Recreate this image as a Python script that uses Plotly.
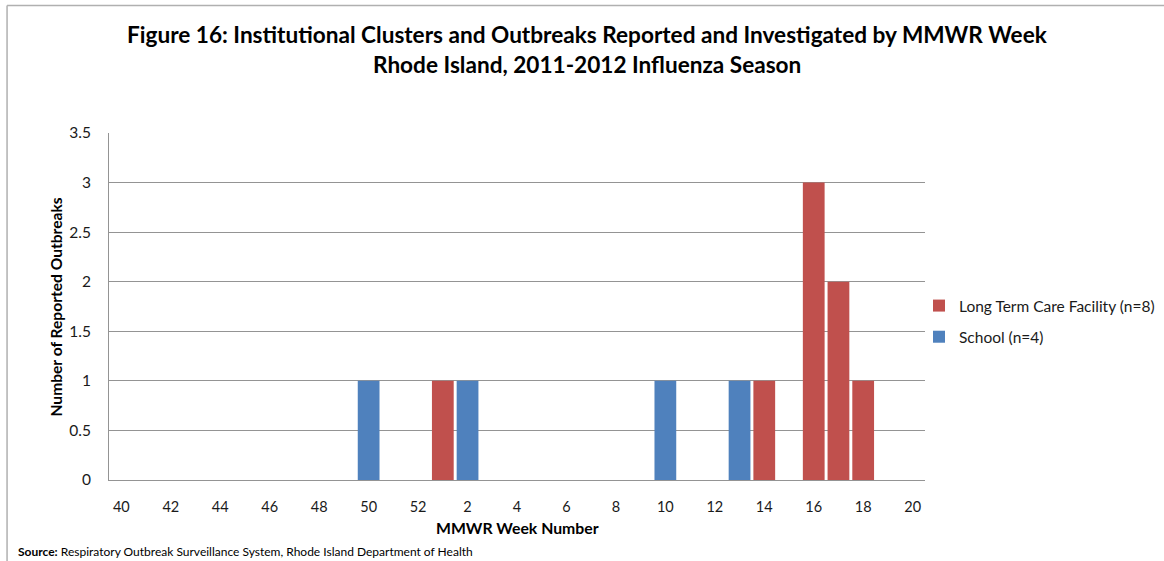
import plotly.graph_objects as go

# ---- data ----
weeks = [str(w) for w in list(range(40, 53)) + list(range(1, 21))]
ltc_values = [0]*13 + [1, 0, 0, 0, 0, 0, 0, 0, 0, 0, 0, 0, 0, 1, 0, 3, 2, 1, 0, 0]
school_values = [0]*10 + [1, 0, 0] + [0, 1, 0, 0, 0, 0, 0, 0, 0, 1, 0, 0, 1, 0, 0, 0, 0, 0, 0, 0]
tick_weeks = ["40", "42", "44", "46", "48", "50", "52", "2", "4", "6", "8", "10", "12", "14", "16", "18", "20"]
y_ticks = [0, 0.5, 1, 1.5, 2, 2.5, 3, 3.5]
y_tick_labels = ["0", "0.5", "1", "1.5", "2", "2.5", "3", "3.5"]

LTC_NAME = "Long Term Care Facility (n=8)"
SCHOOL_NAME = "School (n=4)"
RED = "#C0504D"
BLUE = "#4F81BD"
GRID = "#949494"
FONT = "Lato"

W, H = 1164, 561
PL, PR, PT, PB = 108.5, 925, 133, 480

def px_x(px):
    return (px - PL) / (PR - PL)

def px_y(py):
    return (PB - py) / (PB - PT)

fig = go.Figure()
fig.add_trace(go.Bar(x=weeks, y=ltc_values, name=LTC_NAME, marker=dict(color=RED, line=dict(width=0)),
                     legendgroup="a"))
fig.add_trace(go.Bar(x=weeks, y=school_values, name=SCHOOL_NAME, marker=dict(color=BLUE, line=dict(width=0)),
                     legendgroup="b"))

fig.update_layout(
    width=W, height=H,
    margin=dict(l=PL, r=W - PR, t=PT, b=H - PB, autoexpand=False),
    paper_bgcolor="white", plot_bgcolor="white",
    barmode="overlay", bargap=0.12,
    font=dict(family=FONT, size=14, color="#1a1a1a"),
    showlegend=True,
    legend=dict(x=px_x(919), y=px_y(289), xanchor="left", yanchor="top",
                font=dict(size=15.5, family=FONT, color="#1a1a1a"),
                tracegroupgap=8, traceorder="grouped", bgcolor="rgba(0,0,0,0)"),
    xaxis=dict(type="category", categoryorder="array", categoryarray=weeks,
               tickmode="array", tickvals=tick_weeks, ticktext=tick_weeks,
               showgrid=False, showline=True, linecolor=GRID, linewidth=1,
               ticks="", ticklabelstandoff=14, tickfont=dict(size=14.5, family=FONT),
               zeroline=False),
    yaxis=dict(range=[0, 3.5], tickmode="array", tickvals=y_ticks, ticktext=y_tick_labels,
               showgrid=True, gridcolor=GRID, gridwidth=1,
               showline=True, linecolor=GRID, linewidth=1,
               ticks="", ticklabelstandoff=14, tickfont=dict(size=15.5, family=FONT),
               zeroline=False),
    annotations=[
        dict(text="<b>Figure 16: Institutional Clusters and Outbreaks Reported and Investigated by MMWR Week</b>",
             x=px_x(587), y=px_y(34), xref="paper", yref="paper", showarrow=False,
             xanchor="center", yanchor="middle", font=dict(size=22.6, family=FONT, color="black")),
        dict(text="<b>Rhode Island, 2011-2012 Influenza Season</b>",
             x=px_x(587), y=px_y(64), xref="paper", yref="paper", showarrow=False,
             xanchor="center", yanchor="middle", font=dict(size=22.6, family=FONT, color="black")),
        dict(text="<b>Number of Reported Outbreaks</b>", textangle=-90,
             x=px_x(55), y=px_y(307), xref="paper", yref="paper", showarrow=False,
             xanchor="center", yanchor="middle", font=dict(size=15.6, family=FONT, color="black")),
        dict(text="<b>MMWR Week Number</b>",
             x=px_x(517), y=px_y(527), xref="paper", yref="paper", showarrow=False,
             xanchor="center", yanchor="middle", font=dict(size=15.8, family=FONT, color="black")),
        dict(text="<b>Source:</b> Respiratory Outbreak Surveillance System, Rhode Island Department of Health",
             x=px_x(15), y=px_y(551), xref="paper", yref="paper", showarrow=False,
             xanchor="left", yanchor="middle", font=dict(size=12, family=FONT, color="black")),
    ],
    shapes=[
        dict(type="line", xref="paper", yref="paper", x0=px_x(6.5), x1=px_x(1170), y0=px_y(5.5), y1=px_y(5.5),
             line=dict(color="#b0b0b0", width=1.5)),
        dict(type="line", xref="paper", yref="paper", x0=px_x(6.5), x1=px_x(6.5), y0=px_y(5.5), y1=px_y(570),
             line=dict(color="#b0b0b0", width=1.5)),
    ],
)

fig.write_html("out.html")
